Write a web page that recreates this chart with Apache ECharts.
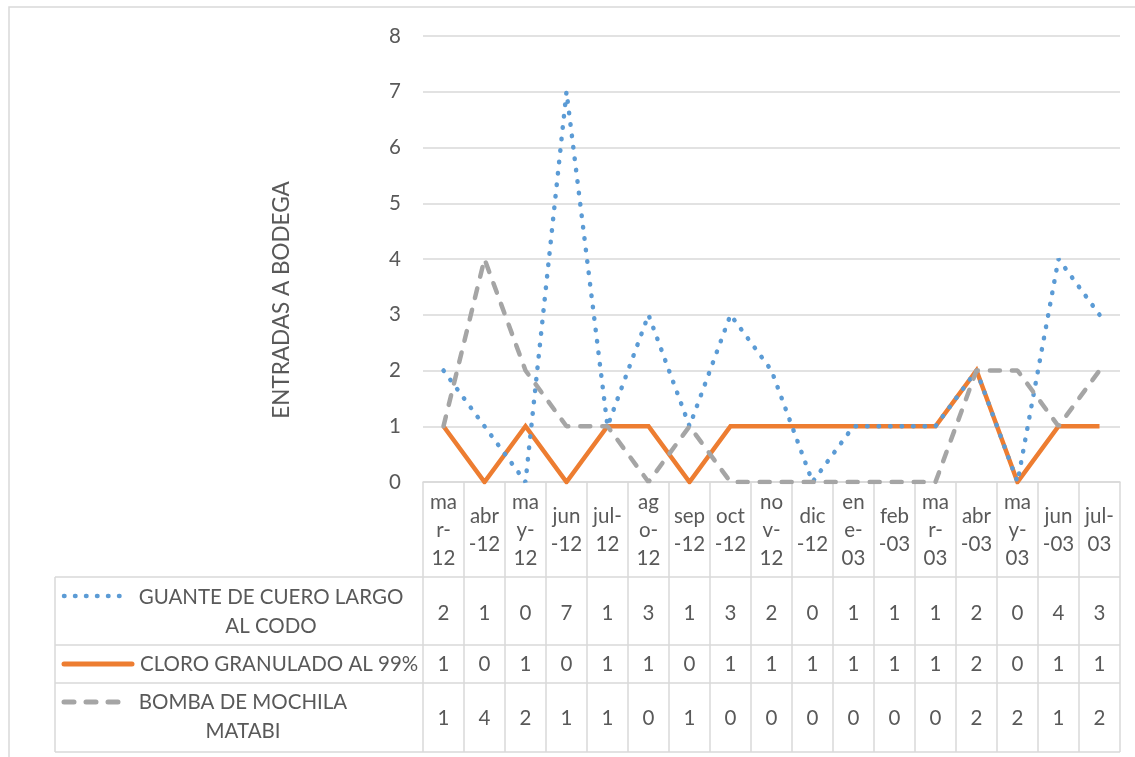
<!DOCTYPE html>
<html>
<head>
<meta charset="utf-8">
<script src="https://cdn.jsdelivr.net/npm/echarts@6/dist/echarts.min.js"></script>
<style>
  html, body { margin: 0; padding: 0; background: #fff; }
  #chart { width: 1135px; height: 757px; }
</style>
</head>
<body>
<div id="chart"></div>
<script>
// datos de la tabla
const categories = ['mar-12', 'abr-12', 'may-12', 'jun-12', 'jul-12', 'ago-12', 'sep-12', 'oct-12', 'nov-12',
  'dic-12', 'ene-03', 'feb-03', 'mar-03', 'abr-03', 'may-03', 'jun-03', 'jul-03'];
const headerLabels = ['ma\nr-\n12', 'abr\n-12', 'ma\ny-\n12', 'jun\n-12', 'jul-\n12', 'ag\no-\n12', 'sep\n-12',
  'oct\n-12', 'no\nv-\n12', 'dic\n-12', 'en\ne-\n03', 'feb\n-03', 'ma\nr-\n03', 'abr\n-03', 'ma\ny-\n03',
  'jun\n-03', 'jul-\n03'];
const guante = [2, 1, 0, 7, 1, 3, 1, 3, 2, 0, 1, 1, 1, 2, 0, 4, 3];
const cloro = [1, 0, 1, 0, 1, 1, 0, 1, 1, 1, 1, 1, 1, 2, 0, 1, 1];
const bomba = [1, 4, 2, 1, 1, 0, 1, 0, 0, 0, 0, 0, 0, 2, 2, 1, 2];
const seriesNames = ['GUANTE DE CUERO LARGO AL CODO', 'CLORO GRANULADO AL 99%', 'BOMBA DE MOCHILA MATABI'];
const yTitle = 'ENTRADAS A BODEGA';

const FONT = 'Lato, "Open Sans", sans-serif';
const FS = 20.5;
const TXT = '#595959';
const GRID = '#d9d9d9';
const BLUE = '#5b9bd5';
const ORANGE = '#ed7d31';
const GRAY = '#a5a5a5';

const chartDom = document.getElementById('chart');
const myChart = echarts.init(chartDom);

const styleBlue = { color: BLUE, width: 4.5, type: [0.5, 11], cap: 'round' };
const styleOrange = { color: ORANGE, width: 4.5, type: 'solid', join: 'miter' };
const styleGray = { color: GRAY, width: 4.5, type: [10, 12], cap: 'round' };

const option = {
  animation: false,
  textStyle: { fontFamily: FONT },
  grid: { left: 423, right: 15, top: 36, bottom: 275, containLabel: false },
  xAxis: {
    type: 'category',
    data: categories,
    boundaryGap: true,
    axisLine: { show: true, lineStyle: { color: GRID, width: 1.5 } },
    axisTick: { show: false },
    axisLabel: {
      interval: 0,
      margin: 48,
      verticalAlign: 'middle',
      color: TXT,
      fontSize: FS,
      lineHeight: 28,
      fontFamily: FONT,
      formatter: (v, i) => headerLabels[i]
    }
  },
  yAxis: {
    type: 'value',
    min: 0,
    max: 8,
    interval: 1,
    axisLine: { show: false },
    axisTick: { show: false },
    axisLabel: { color: TXT, fontSize: FS, margin: 22, fontFamily: FONT },
    splitLine: { lineStyle: { color: GRID, width: 1.5 } }
  },
  series: [
    { name: seriesNames[0], type: 'line', data: guante, symbol: 'none', lineStyle: styleBlue, z: 3 },
    { name: seriesNames[1], type: 'line', data: cloro, symbol: 'none', lineStyle: styleOrange, z: 2 },
    { name: seriesNames[2], type: 'line', data: bomba, symbol: 'none', lineStyle: styleGray, z: 4 }
  ]
};
myChart.setOption(option);

// tabla de datos dibujada con graphic
function buildTable() {
  const xs = categories.map((c, i) => myChart.convertToPixel({ xAxisIndex: 0 }, i));
  const band = xs[1] - xs[0];
  const tLeft = xs[0] - band / 2;
  const tRight = xs[xs.length - 1] + band / 2;
  const yAxis0 = myChart.convertToPixel({ yAxisIndex: 0 }, 0);
  const legendLeft = 55;
  const rowTops = [577, 645, 683, 752];
  const rowCenters = [613, 664, 718];
  const g = [];
  const line = (x1, y1, x2, y2) => g.push({
    type: 'line', silent: true, z: 1,
    shape: { x1, y1, x2, y2 },
    style: { stroke: GRID, lineWidth: 1.5 }
  });
  const text = (x, y, t, align) => g.push({
    type: 'text', silent: true, z: 5, x, y,
    style: { text: t, fill: TXT, font: FS + 'px ' + FONT, align: align || 'center', verticalAlign: 'middle' }
  });

  // borde exterior
  g.push({ type: 'rect', silent: true, shape: { x: 9, y: 7, width: 1200, height: 800 },
    style: { fill: 'none', stroke: GRID, lineWidth: 1.5 } });

  rowTops.forEach(y => line(legendLeft, y, tRight, y));
  for (let k = 0; k <= xs.length; k++) {
    const x = tLeft + k * band;
    line(x, yAxis0, x, rowTops[3]);
  }
  line(legendLeft, rowTops[0], legendLeft, rowTops[3]);

  [guante, cloro, bomba].forEach((vals, r) => {
    vals.forEach((v, i) => text(xs[i], rowCenters[r], String(v)));
  });

  // leyenda
  const sample = (y, x2, ls) => g.push({
    type: 'line', silent: true, z: 5,
    shape: { x1: 64, y1: y, x2, y2: y },
    style: { stroke: ls.color, lineWidth: ls.width, lineDash: ls.type === 'solid' ? null : ls.type, lineCap: ls.cap || 'butt' }
  });
  sample(596, 126, { color: BLUE, width: 4.5, type: [0.5, 10.5], cap: 'round' });
  sample(664, 132, { color: ORANGE, width: 5, type: 'solid', cap: 'round' });
  sample(702, 124, { color: GRAY, width: 5, type: [10, 12], cap: 'round' });
  text(271, 597, 'GUANTE DE CUERO LARGO');
  text(271, 626, 'AL CODO');
  text(140, 664, seriesNames[1], 'left');
  text(243, 702, 'BOMBA DE MOCHILA');
  text(243, 731, 'MATABI');

  // titulo del eje
  g.push({
    type: 'text', silent: true, x: 282, y: 300, rotation: Math.PI / 2,
    style: { text: yTitle, fill: TXT, font: '22.5px ' + FONT, align: 'center', verticalAlign: 'middle' }
  });

  myChart.setOption({ graphic: g });
}
buildTable();
</script>
</body>
</html>
